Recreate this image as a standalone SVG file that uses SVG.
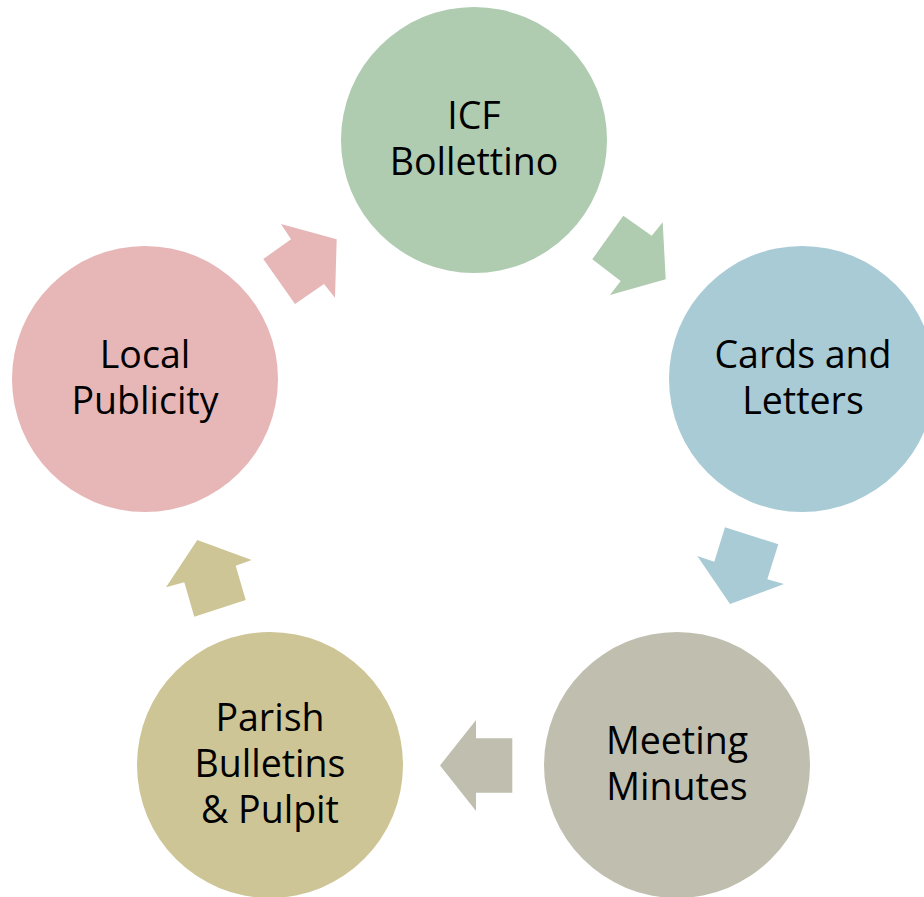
<svg xmlns="http://www.w3.org/2000/svg" width="924" height="897" viewBox="0 0 924 897">
<style>
text{font-family:"Open Sans","Noto Sans",sans-serif;font-size:37.5px;fill:#000;text-anchor:middle}
</style>
<rect width="924" height="897" fill="#fff"/>
<g id="connectors">
<polygon fill="#afcbb0" points="592.3,259.3 623.3,215.7 651.7,235.7 662.7,222.3 665.7,279.3 610,295 620.7,281"/>
<polygon fill="#a8cbd5" points="725,527.3 778.3,544.3 767.3,579.3 784,584 730,604 697.3,556 714.3,561.7"/>
<polygon fill="#c0bfaf" points="512.3,738.3 512.3,792.7 476,792.7 476,811 440,765.5 476,720 476,738.3"/>
<polygon fill="#cdc595" points="197.3,540 251.7,560 235.7,565.7 245.7,600 194.3,616.7 184.3,582.3 166,587.3"/>
<polygon fill="#e7b7b8" points="281,224 336.7,239.3 335,297.7 324,284 295,304 263.3,259 291,239.3"/>
</g>
<g id="icf">
<circle cx="474" cy="140" r="133" fill="#afcbb0"/>
<text x="474" y="129">ICF</text>
<text x="474" y="175">Bollettino</text>
</g>
<g id="cards">
<circle cx="802" cy="379" r="133" fill="#a8cbd5"/>
<text x="803" y="368">Cards and</text>
<text x="803" y="414">Letters</text>
</g>
<g id="meeting">
<circle cx="677" cy="765" r="133" fill="#c0bfaf"/>
<text x="677" y="754">Meeting</text>
<text x="677" y="800">Minutes</text>
</g>
<g id="parish">
<circle cx="270" cy="765" r="133" fill="#cdc595"/>
<text x="270" y="731">Parish</text>
<text x="270" y="777">Bulletins</text>
<text x="270" y="823">&amp; Pulpit</text>
</g>
<g id="local">
<circle cx="145" cy="379" r="133" fill="#e7b7b8"/>
<text x="145" y="368">Local</text>
<text x="145" y="414">Publicity</text>
</g>
</svg>
